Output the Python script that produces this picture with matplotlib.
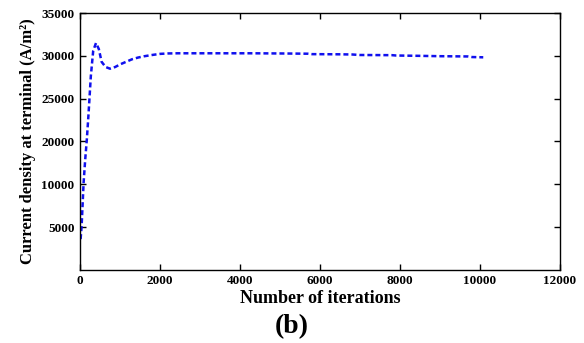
import numpy as np
import matplotlib.pyplot as plt

# curve (iterations, current density)
iters = [15, 40, 90, 130, 170, 210, 235, 270, 330, 400, 470, 540, 640, 750, 880,
         1000, 1150, 1300, 1450, 1600, 1800, 2000, 2200, 2450, 3000, 3500, 4250,
         5000, 5700, 5800, 6500, 6800, 7000, 7800, 7900, 8500, 9000, 9700, 9800, 10080]
density = [8600, 10100, 15200, 17900, 20200, 23000, 24900, 27600, 30600, 31500, 30800, 29300,
           28700, 28500, 28700, 29000, 29300, 29600, 29800, 29950, 30100, 30230, 30280, 30300,
           30300, 30300, 30300, 30280, 30250, 30200, 30180, 30160, 30100, 30080, 30040,
           30000, 29960, 29930, 29860, 29830]

ytick_pos = [10000, 15000, 20000, 25000, 30000, 35000]
ytick_lab = ['5000', '10000', '20000', '25000', '30000', '35000']
xticks = [0, 2000, 4000, 6000, 8000, 10000, 12000]

plt.rcParams['font.family'] = ['Liberation Serif', 'DejaVu Serif']

fig = plt.figure(figsize=(5.84, 3.43), dpi=100)
ax = fig.add_axes([0.137, 0.213, 0.822, 0.749])
ax.plot(iters, density, color='#1010ee', linestyle=(0, (2.0, 1.2)), linewidth=1.8)

ax.set_xlim(0, 12000)
ax.set_ylim(5000, 35000)
ax.set_xticks(xticks)
ax.set_xticklabels([str(t) for t in xticks], fontsize=9.5, fontweight='bold')
ax.set_yticks(ytick_pos)
ax.set_yticklabels(ytick_lab, fontsize=9.5, fontweight='bold')
ax.tick_params(direction='in', top=True, right=True, length=4, width=1, pad=4)
for s in ax.spines.values():
    s.set_linewidth(1.0)

ax.set_xlabel('Number of iterations', fontsize=13, fontweight='bold', labelpad=2)
ax.set_ylabel('Current density at terminal (A/m²)', fontsize=12, fontweight='bold', labelpad=4)
fig.text(0.5, 0.03, '(b)', ha='center', fontsize=20, fontweight='bold')

fig.savefig('out.png', dpi=100)
